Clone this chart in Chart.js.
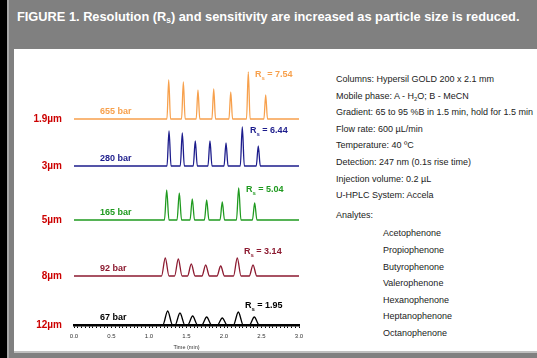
<!DOCTYPE html>
<html>
<head>
<meta charset="utf-8">
<script src="https://cdn.jsdelivr.net/npm/chart.js@4"></script>
<style>
  html, body { margin: 0; padding: 0; }
  body { width: 537px; height: 358px; background: #000; position: relative; overflow: hidden;
         font-family: "Liberation Sans", Arial, sans-serif; }
  #frame { position: absolute; left: 7px; top: 0; width: 528px; height: 358px; background: #808080;
           border-left: 2px solid #a8a8a8; }
  #panel { position: absolute; left: 14px; top: 49px; width: 523px; height: 302px; background: #fff;
           border-bottom: 2px solid #c0c0c0; }
  #title { position: absolute; left: 17px; top: 9px; color: #fff; font-weight: bold; font-size: 12.8px;
           white-space: nowrap; }
  sub { font-size: 65%; vertical-align: -2px; line-height: 0; }
  #info { position: absolute; left: 336px; top: 71px; font-size: 9px; line-height: 16.6px; color: #222;
          white-space: nowrap; }
  #info .ind { padding-left: 47px; }
  #info .gap { margin-top: 3px; margin-bottom: 2px; }
  #chart { position: absolute; left: 0; top: 0; }
</style>
</head>
<body>
<div id="frame"></div>
<div id="panel"></div>
<div id="title">FIGURE 1. Resolution (R<sub>s</sub>) and sensitivity are increased as particle size is reduced.</div>
<div id="info">
  <div>Columns: Hypersil GOLD 200 x 2.1 mm</div>
  <div>Mobile phase: A - H<sub>2</sub>O; B - MeCN</div>
  <div>Gradient: 65 to 95 %B in 1.5 min, hold for 1.5 min</div>
  <div>Flow rate: 600 µL/min</div>
  <div>Temperature: 40 ºC</div>
  <div>Detection: 247 nm (0.1s rise time)</div>
  <div>Injection volume: 0.2 µL</div>
  <div>U-HPLC System: Accela</div>
  <div class="gap">Analytes:</div>
  <div class="ind">Acetophenone</div>
  <div class="ind">Propiophenone</div>
  <div class="ind">Butyrophenone</div>
  <div class="ind">Valerophenone</div>
  <div class="ind">Hexanophenone</div>
  <div class="ind">Heptanophenone</div>
  <div class="ind">Octanophenone</div>
</div>
<canvas id="chart" width="537" height="358"></canvas>
<script>
// traces from top to bottom
const particles = ["1.9µm", "3µm", "5µm", "8µm", "12µm"];
const pressures = ["655 bar", "280 bar", "165 bar", "92 bar", "67 bar"];
const resolutions = ["7.54", "6.44", "5.04", "3.14", "1.95"];
const colors = ["#f7a04c", "#1c1c8c", "#1f9a1f", "#8c1a30", "#000000"];

// retention times (min) of the 7 peaks
const times19 = [1.263, 1.458, 1.653, 1.863, 2.090, 2.324, 2.556];
const times3  = [1.267, 1.444, 1.617, 1.813, 2.027, 2.244, 2.457];
const times5  = [1.236, 1.404, 1.577, 1.769, 1.977, 2.196, 2.409];
const times8  = [1.217, 1.391, 1.564, 1.756, 1.956, 2.177, 2.387];
const times12 = [1.249, 1.413, 1.582, 1.769, 1.977, 2.191, 2.404];

// peak heights (signal units)
const heights19 = [39, 37, 29, 30, 27, 47, 24];
const heights3  = [35, 33, 25, 25, 23, 39, 20];
const heights5  = [30, 27, 21, 20, 18, 32, 17];
const heights8  = [18, 17, 12, 11, 10, 18, 11];
const heights12 = [14, 12, 9, 8, 7, 13, 8];

// half width of the peaks at the base (min)
const halfWidths = [0.024, 0.027, 0.03, 0.05, 0.065];

// vertical stacking offsets
const offsets = [206, 159, 105, 49, 0];

// where the Rs annotation sits (time, height above own baseline)
const rsTimes = [2.413, 2.347, 2.293, 2.267, 2.28];
const rsLevels = [44, 35, 30, 24, 19];

const allTimes = [times19, times3, times5, times8, times12];
const allHeights = [heights19, heights3, heights5, heights8, heights12];

const tracePoints = (times, heights, w, off) => {
  const pts = [{ x: 0, y: off }];
  times.forEach((t, i) => {
    pts.push({ x: t - w, y: off });
    pts.push({ x: t, y: off + heights[i] });
    pts.push({ x: t + w, y: off });
  });
  pts.push({ x: 3, y: off });
  return pts;
};

const datasets = allTimes.map((times, i) => ({
  label: particles[i],
  data: tracePoints(times, allHeights[i], halfWidths[i], offsets[i]),
  borderColor: colors[i],
  borderWidth: 1.3,
  pointRadius: 0,
  fill: false,
  cubicInterpolationMode: "monotone"
}));

const FONT = '"Liberation Sans", Arial, sans-serif';

const labelPlugin = {
  id: "traceLabels",
  afterDatasetsDraw(chart) {
    const { ctx, chartArea } = chart;
    const xs = chart.scales.x, ys = chart.scales.y;
    ctx.save();
    ctx.textBaseline = "middle";
    offsets.forEach((off, i) => {
      const base = ys.getPixelForValue(off);
      // particle size
      ctx.font = "bold 10px " + FONT;
      ctx.fillStyle = "#cc0000";
      ctx.textAlign = "right";
      ctx.fillText(particles[i], chartArea.left - 12, base);
      // pressure
      ctx.font = "bold 9px " + FONT;
      ctx.fillStyle = colors[i];
      ctx.textAlign = "left";
      ctx.fillText(pressures[i], xs.getPixelForValue(0.347), base - 7);
      // resolution
      const rx = xs.getPixelForValue(rsTimes[i]);
      const ry = ys.getPixelForValue(off + rsLevels[i]);
      ctx.fillText("R", rx, ry);
      const w1 = ctx.measureText("R").width;
      ctx.font = "bold 6px " + FONT;
      ctx.fillText("s", rx + w1, ry + 3);
      const w2 = ctx.measureText("s").width;
      ctx.font = "bold 9px " + FONT;
      ctx.fillText(" = " + resolutions[i], rx + w1 + w2, ry);
    });
    ctx.restore();
  }
};

new Chart(document.getElementById("chart"), {
  type: "line",
  data: { datasets },
  options: {
    responsive: false,
    animation: false,
    events: [],
    layout: { padding: { left: 74, right: 238, top: 65, bottom: 0 } },
    plugins: { legend: { display: false }, tooltip: { enabled: false } },
    scales: {
      x: {
        type: "linear",
        min: 0,
        max: 3,
        afterFit: (scale) => { scale.height = 33; },
        ticks: {
          stepSize: 0.05,
          autoSkip: false,
          maxRotation: 0,
          padding: 5,
          color: "#333",
          font: { size: 6, family: FONT },
          callback: (v) => {
            const r = Math.round(v * 100);
            return r % 50 === 0 ? (r / 100).toFixed(1) : "";
          }
        },
        grid: { drawOnChartArea: false, drawTicks: true, tickLength: 3, color: "#000", lineWidth: 1 },
        border: { display: true, color: "#000", width: 2.5 },
        title: { display: true, text: "Time (min)", color: "#333", font: { size: 5.5, family: FONT }, padding: { top: 0, bottom: 7 } }
      },
      y: { display: false, min: 0, max: 260 }
    }
  },
  plugins: [labelPlugin]
});
</script>
</body>
</html>
